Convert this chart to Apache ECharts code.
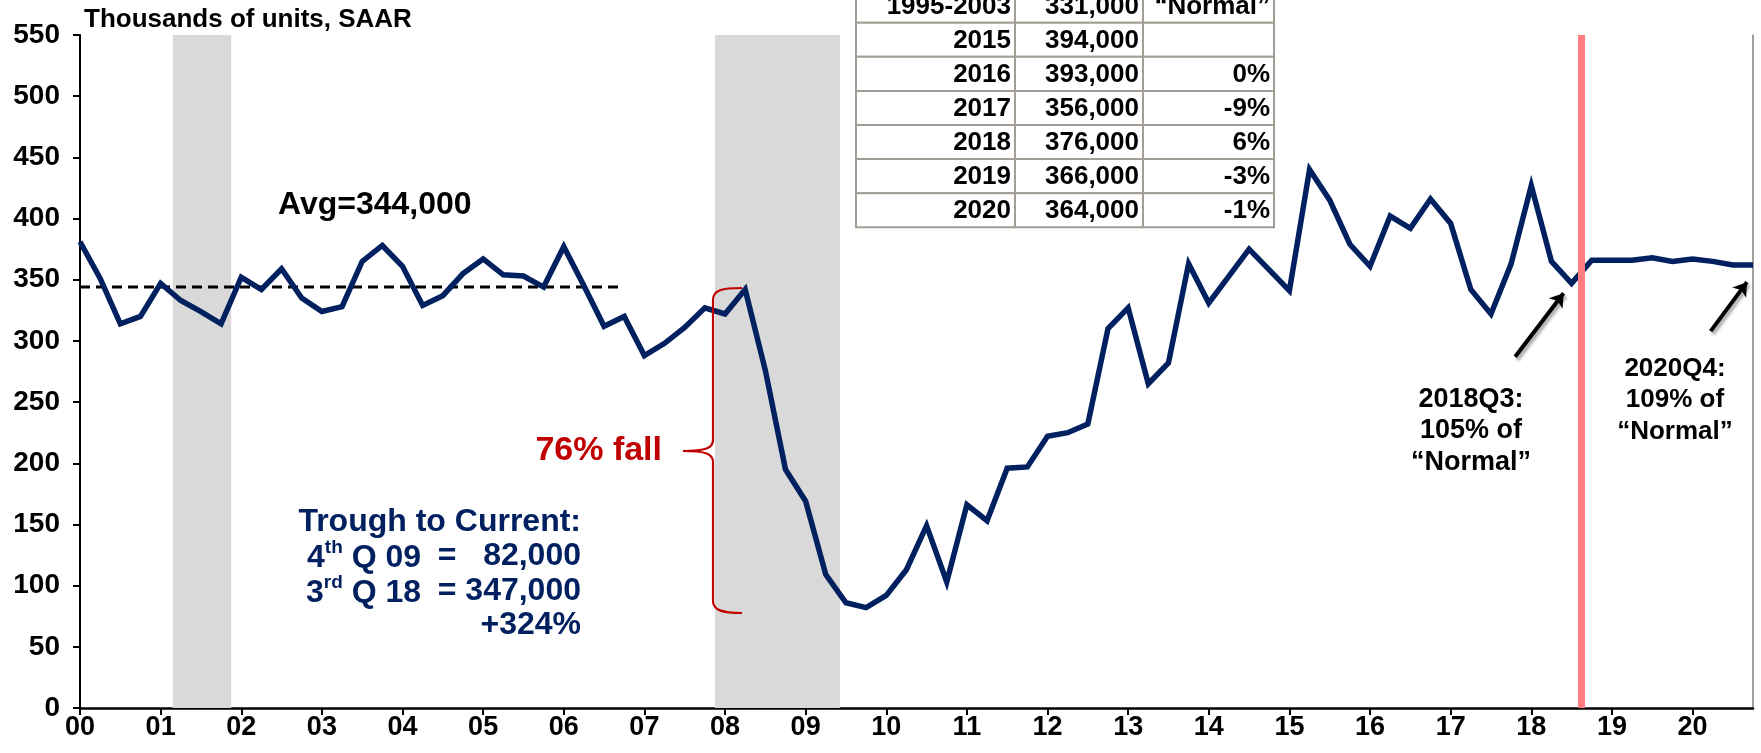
<!DOCTYPE html>
<html>
<head>
<meta charset="utf-8">
<script src="https://cdn.jsdelivr.net/npm/echarts@6/dist/echarts.min.js"></script>
<style>
    html, body { margin: 0; padding: 0; background: #fff; }
    #chart { width: 1761px; height: 753px; }
</style>
</head>
<body>
<div id="chart"></div>
<script>
// quarterly, 2000Q1 .. 2020Q4, thousands of units SAAR
const yearLabels = ["00", "01", "02", "03", "04", "05", "06", "07", "08", "09", "10",
    "11", "12", "13", "14", "15", "16", "17", "18", "19", "20"];
const starts = [
    381, 351, 314, 320,
    347, 333, 324, 314,
    352, 342, 359, 335,
    324, 328, 365, 378,
    361, 329, 337, 355,
    367, 354, 353, 344,
    377, 345, 312, 320,
    288, 298, 311, 327,
    322, 342, 276, 195,
    169, 109, 86, 82,
    92, 113, 149, 103,
    166, 153, 196, 197,
    222, 225, 232, 310,
    327, 265, 282, 363,
    331, 353, 375, 358,
    341, 440, 415, 379,
    361, 402, 392, 416,
    396, 342, 322, 363,
    427, 365, 347, 366,
    366, 366, 368, 365,
    367, 365, 362, 362
];
const avgValue = 344;
const avgEnd = 26.75;                       // quarter index where dashed line stops
const recessions = [[4.6, 7.5], [31.5, 37.7]];  // quarter index ranges
const markerQuarter = 74.5;                 // red vertical line
const tableRows = [
    ["1995-2003", "331,000", "\u201cNormal\u201d"],
    ["2015", "394,000", ""],
    ["2016", "393,000", "0%"],
    ["2017", "356,000", "-9%"],
    ["2018", "376,000", "6%"],
    ["2019", "366,000", "-3%"],
    ["2020", "364,000", "-1%"]
];

const FONT = "'Liberation Sans', Arial, sans-serif";
const NAVY = "#002060";
const RED = "#C00000";

const chart = echarts.init(document.getElementById("chart"));

// table cells
let tableGraphics = [];
const colX = [856, 1015, 1143, 1274];
const rowH = 34.1;
const tableTop = 227.3 - rowH * tableRows.length;
tableRows.forEach(function (row, r) {
    for (let c = 0; c < 3; c++) {
        tableGraphics.push({
            type: "rect",
            z: 100,
            shape: {x: colX[c], y: tableTop + r * rowH, width: colX[c + 1] - colX[c], height: rowH},
            style: {fill: "#fff", stroke: "#A29E96", lineWidth: 2}
        });
        tableGraphics.push({
            type: "text",
            z: 101,
            x: colX[c + 1] - 4,
            y: tableTop + r * rowH + rowH / 2 + 1,
            style: {
                text: row[c], fill: "#000", align: "right", verticalAlign: "middle",
                fontFamily: FONT, fontWeight: "bold", fontSize: 26
            }
        });
    }
});

function navyText(x, y, text, align, rich) {
    return {
        type: "text", z: 50, x: x, y: y,
        style: {
            text: text, fill: NAVY, align: align, verticalAlign: "middle",
            fontFamily: FONT, fontWeight: "bold", fontSize: 32,
            rich: rich
        }
    };
}

const supRich = {
    n: {fontFamily: FONT, fontWeight: "bold", fontSize: 32, fill: NAVY, lineHeight: 36, verticalAlign: "bottom"},
    sup: {fontFamily: FONT, fontWeight: "bold", fontSize: 19, fill: NAVY, lineHeight: 19, verticalAlign: "top"}
};

// curly brace next to the crash
function braceCurve(x1, y1, cx1, cy1, cx2, cy2, x2, y2) {
    return {
        type: "bezierCurve", z: 60, silent: true,
        shape: {x1: x1, y1: y1, cpx1: cx1, cpy1: cy1, cpx2: cx2, cpy2: cy2, x2: x2, y2: y2},
        style: {fill: null, stroke: RED, lineWidth: 2.2}
    };
}
function braceLine(x1, y1, x2, y2) {
    return {
        type: "line", z: 60, silent: true,
        shape: {x1: x1, y1: y1, x2: x2, y2: y2},
        style: {stroke: RED, lineWidth: 2.2}
    };
}
const braceGraphics = [
    braceCurve(742, 288, 722, 288, 713, 290, 713, 300),
    braceLine(713, 300, 713, 440),
    braceCurve(713, 440, 713, 448, 706, 451, 683, 451),
    braceCurve(683, 451, 706, 451, 713, 454, 713, 462),
    braceLine(713, 462, 713, 601),
    braceCurve(713, 601, 713, 610, 722, 613, 742, 613)
];

const option = {
    animation: false,
    grid: {left: 80, right: 8, top: 35, bottom: 45},
    xAxis: {
        type: "value",
        min: 0,
        max: starts.length - 1,
        interval: 4,
        splitLine: {show: false},
        axisLine: {lineStyle: {color: "#000", width: 2.5}},
        axisTick: {length: 7, lineStyle: {color: "#000", width: 2}},
        axisLabel: {
            color: "#000", fontFamily: FONT, fontWeight: "bold", fontSize: 27, margin: 6,
            showMaxLabel: false,
            formatter: function (v) {
                return v % 4 === 0 ? (yearLabels[v / 4] || "") : "";
            }
        }
    },
    yAxis: [{
        type: "value",
        min: 0,
        max: 550,
        interval: 50,
        splitLine: {show: false},
        axisLine: {show: true, lineStyle: {color: "#000", width: 2}},
        axisTick: {show: true, length: 7, lineStyle: {color: "#000", width: 2}},
        axisLabel: {color: "#000", fontFamily: FONT, fontWeight: "bold", fontSize: 28, margin: 20}
    }, {
        type: "value",
        min: 0,
        max: 550,
        position: "right",
        splitLine: {show: false},
        axisLine: {show: true, lineStyle: {color: "#808080", width: 1.5}},
        axisTick: {show: false},
        axisLabel: {show: false}
    }],
    series: [{
        // background marks: recession bands and the red marker line
        type: "line",
        z: 1,
        data: [],
        silent: true,
        markArea: {
            silent: true,
            itemStyle: {color: "#D9D9D9"},
            data: recessions.map(function (r) {
                return [{xAxis: r[0]}, {xAxis: r[1]}];
            })
        },
        markLine: {
            silent: true,
            symbol: "none",
            label: {show: false},
            lineStyle: {color: "#FF7C80", width: 7, type: "solid"},
            data: [{xAxis: markerQuarter}]
        }
    }, {
        type: "line",
        z: 3,
        data: [[0, avgValue], [avgEnd, avgValue]],
        symbol: "none",
        silent: true,
        lineStyle: {color: "#000", width: 3, type: [10, 6]}
    }, {
        type: "line",
        z: 4,
        data: starts.map(function (v, i) { return [i, v]; }),
        symbol: "none",
        lineStyle: {color: NAVY, width: 5.5, join: "miter"},
        markLine: {
            silent: true,
            symbol: ["none", "arrow"],
            symbolSize: 13,
            label: {show: false},
            lineStyle: {
                color: "#000", width: 4, type: "solid",
                shadowColor: "rgba(0,0,0,0.35)", shadowBlur: 3, shadowOffsetX: 2, shadowOffsetY: 3
            },
            data: [
                [{coord: [71.2, 287]}, {coord: [73.6, 339]}],
                [{coord: [80.9, 308]}, {coord: [82.7, 348]}]
            ]
        }
    }],
    graphic: [
        {
            type: "text", x: 84, y: 20,
            style: {
                text: "Thousands of units, SAAR", fill: "#000", verticalAlign: "middle",
                fontFamily: FONT, fontWeight: "bold", fontSize: 26
            }
        },
        {
            type: "text", x: 278, y: 205,
            style: {
                text: "Avg=344,000", fill: "#000", verticalAlign: "middle",
                fontFamily: FONT, fontWeight: "bold", fontSize: 32
            }
        },
        {
            type: "text", x: 662, y: 451,
            style: {
                text: "76% fall", fill: RED, align: "right", verticalAlign: "middle",
                fontFamily: FONT, fontWeight: "bold", fontSize: 34
            }
        },
        navyText(581, 522, "Trough to Current:", "right"),
        navyText(421, 556, "{n|4}{sup|th}{n| Q 09}", "right", supRich),
        navyText(447, 556, "=", "center"),
        navyText(581, 556, "82,000", "right"),
        navyText(421, 591, "{n|3}{sup|rd}{n| Q 18}", "right", supRich),
        navyText(447, 591, "=", "center"),
        navyText(581, 591, "347,000", "right"),
        navyText(581, 625, "+324%", "right"),
        {
            type: "text", x: 1471, y: 431,
            style: {
                text: "2018Q3:\n105% of\n\u201cNormal\u201d", fill: "#000", align: "center", verticalAlign: "middle",
                fontFamily: FONT, fontWeight: "bold", fontSize: 27, lineHeight: 31.5
            }
        },
        {
            type: "text", x: 1675, y: 400,
            style: {
                text: "2020Q4:\n109% of\n\u201cNormal\u201d", fill: "#000", align: "center", verticalAlign: "middle",
                fontFamily: FONT, fontWeight: "bold", fontSize: 26, lineHeight: 31.5
            }
        }
    ].concat(braceGraphics, tableGraphics)
};

chart.setOption(option);
</script>
</body>
</html>
